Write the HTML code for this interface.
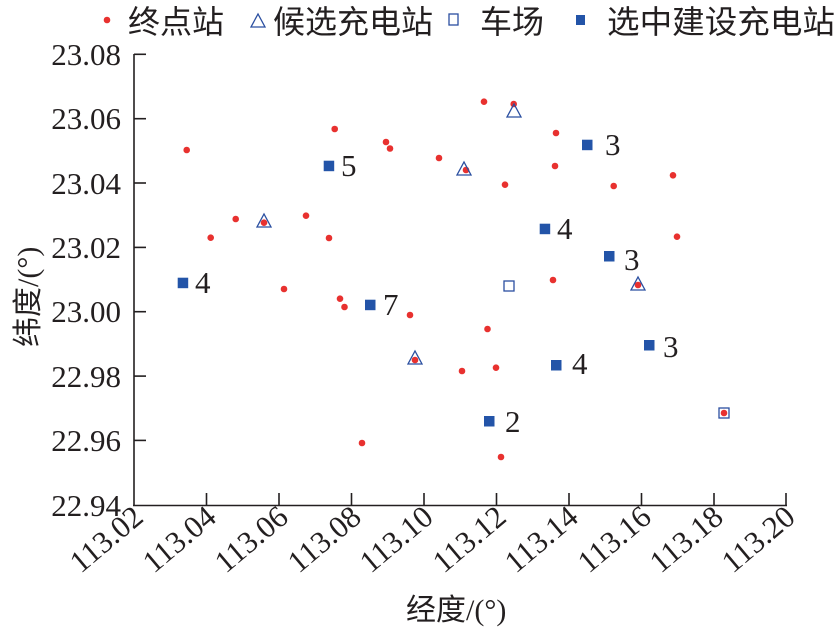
<!DOCTYPE html>
<html><head><meta charset="utf-8"><style>
html,body{margin:0;padding:0;background:#fff;}
svg{display:block;}
text{font-family:"Liberation Serif","Noto Serif CJK SC",serif;fill:#231f20;}
.cj{font-family:"Liberation Serif","Noto Sans CJK SC",sans-serif;}
</style></head><body>
<svg width="838" height="633" viewBox="0 0 838 633" xmlns="http://www.w3.org/2000/svg">
<!-- legend -->
<circle cx="107" cy="20" r="3.3" fill="#e8312f"/>
<text class="cj" x="128" y="33" font-size="32">终点站</text>
<polygon points="251,27 265,27 258,14" fill="none" stroke="#2b4fa0" stroke-width="1.3"/>
<text class="cj" x="273" y="33" font-size="32">候选充电站</text>
<rect x="449" y="14" width="9" height="11" fill="none" stroke="#2b4fa0" stroke-width="1.3"/>
<text class="cj" x="480" y="33" font-size="32">车场</text>
<rect x="576" y="15" width="9" height="10" fill="#2354a8"/>
<text class="cj" x="607" y="33" font-size="32" textLength="228" lengthAdjust="spacingAndGlyphs">选中建设充电站</text>

<!-- axes -->
<g stroke="#231f20" stroke-width="1.6" fill="none">
<line x1="134" y1="54" x2="134" y2="506"/>
<line x1="133" y1="505.5" x2="787" y2="505.5"/>
<line x1="134" y1="54.3" x2="146" y2="54.3"/>
<line x1="134" y1="118.7" x2="146" y2="118.7"/>
<line x1="134" y1="183" x2="146" y2="183"/>
<line x1="134" y1="247.4" x2="146" y2="247.4"/>
<line x1="134" y1="311.7" x2="146" y2="311.7"/>
<line x1="134" y1="376.1" x2="146" y2="376.1"/>
<line x1="134" y1="440.4" x2="146" y2="440.4"/>
<line x1="206.5" y1="505" x2="206.5" y2="493"/>
<line x1="279" y1="505" x2="279" y2="493"/>
<line x1="351.5" y1="505" x2="351.5" y2="493"/>
<line x1="424" y1="505" x2="424" y2="493"/>
<line x1="496.5" y1="505" x2="496.5" y2="493"/>
<line x1="569" y1="505" x2="569" y2="493"/>
<line x1="641.5" y1="505" x2="641.5" y2="493"/>
<line x1="714" y1="505" x2="714" y2="493"/>
<line x1="786" y1="505" x2="786" y2="493"/>
</g>
<g font-size="31" text-anchor="end">
<text x="121" y="65">23.08</text>
<text x="121" y="129">23.06</text>
<text x="121" y="194">23.04</text>
<text x="121" y="258">23.02</text>
<text x="121" y="322">23.00</text>
<text x="121" y="387">22.98</text>
<text x="121" y="451">22.96</text>
<text x="121" y="516">22.94</text>
</g>
<g font-size="31" text-anchor="end">
<text transform="translate(145,520) rotate(-40)">113.02</text>
<text transform="translate(218,520) rotate(-40)">113.04</text>
<text transform="translate(290,520) rotate(-40)">113.06</text>
<text transform="translate(363,520) rotate(-40)">113.08</text>
<text transform="translate(435,520) rotate(-40)">113.10</text>
<text transform="translate(508,520) rotate(-40)">113.12</text>
<text transform="translate(580,520) rotate(-40)">113.14</text>
<text transform="translate(653,520) rotate(-40)">113.16</text>
<text transform="translate(725,520) rotate(-40)">113.18</text>
<text transform="translate(797,520) rotate(-40)">113.20</text>
</g>
<text class="cj" x="406" y="620" font-size="30">经度/(°)</text>
<text class="cj" transform="translate(38,347) rotate(-90)" font-size="30">纬度/(°)</text>

<!-- red dots -->
<g fill="#e8312f">
<circle cx="186.7" cy="150" r="3.3"/><circle cx="210.7" cy="237.7" r="3.3"/><circle cx="235.7" cy="219" r="3.3"/>
<circle cx="264" cy="222.7" r="3.3"/><circle cx="284" cy="289" r="3.3"/><circle cx="306" cy="215.7" r="3.3"/>
<circle cx="329" cy="238" r="3.3"/><circle cx="334.7" cy="129" r="3.3"/><circle cx="340" cy="298.7" r="3.3"/>
<circle cx="344.5" cy="307" r="3.3"/><circle cx="386" cy="142" r="3.3"/><circle cx="390" cy="148.5" r="3.3"/>
<circle cx="439" cy="158" r="3.3"/><circle cx="466" cy="170" r="3.3"/><circle cx="484" cy="101.7" r="3.3"/>
<circle cx="513.7" cy="104" r="3.3"/><circle cx="556" cy="133" r="3.3"/><circle cx="555" cy="166" r="3.3"/>
<circle cx="505" cy="184.7" r="3.3"/><circle cx="613.7" cy="186" r="3.3"/><circle cx="673" cy="175.3" r="3.3"/>
<circle cx="677" cy="236.7" r="3.3"/><circle cx="553" cy="280" r="3.3"/><circle cx="638" cy="285" r="3.3"/>
<circle cx="410" cy="315" r="3.3"/><circle cx="487.5" cy="329" r="3.3"/><circle cx="415" cy="360" r="3.3"/>
<circle cx="462" cy="371" r="3.3"/><circle cx="496" cy="367.7" r="3.3"/><circle cx="362" cy="443" r="3.3"/>
<circle cx="501" cy="457" r="3.3"/><circle cx="724" cy="413" r="3.3"/>
</g>
<!-- triangles / open squares -->
<g fill="none" stroke="#2b4fa0" stroke-width="1.3">
<polygon points="507,117 521,117 514,104"/>
<polygon points="457,175 471,175 464,162"/>
<polygon points="257,227 271,227 264,214"/>
<polygon points="631,290 645,290 638,277"/>
<polygon points="408,364 422,364 415,351"/>
<rect x="504" y="281" width="10" height="10"/>
<rect x="719" y="408" width="10" height="10"/>
</g>
<!-- selected -->
<g fill="#2354a8">
<rect x="177.7" y="277.7" width="10.5" height="10.5"/>
<rect x="323.7" y="160.7" width="10.5" height="10.5"/>
<rect x="365" y="299.7" width="10.5" height="10.5"/>
<rect x="539.7" y="223.7" width="10.5" height="10.5"/>
<rect x="582" y="139.7" width="10.5" height="10.5"/>
<rect x="604" y="251" width="10.5" height="10.5"/>
<rect x="644" y="340" width="10.5" height="10.5"/>
<rect x="551" y="360" width="10.5" height="10.5"/>
<rect x="484" y="416" width="10.5" height="10.5"/>
</g>
<g font-size="31">
<text x="195" y="293">4</text>
<text x="341" y="176">5</text>
<text x="383" y="315">7</text>
<text x="557" y="239">4</text>
<text x="605" y="155">3</text>
<text x="624" y="270">3</text>
<text x="663" y="357">3</text>
<text x="572" y="374">4</text>
<text x="505" y="432">2</text>
</g>
</svg>
</body></html>
